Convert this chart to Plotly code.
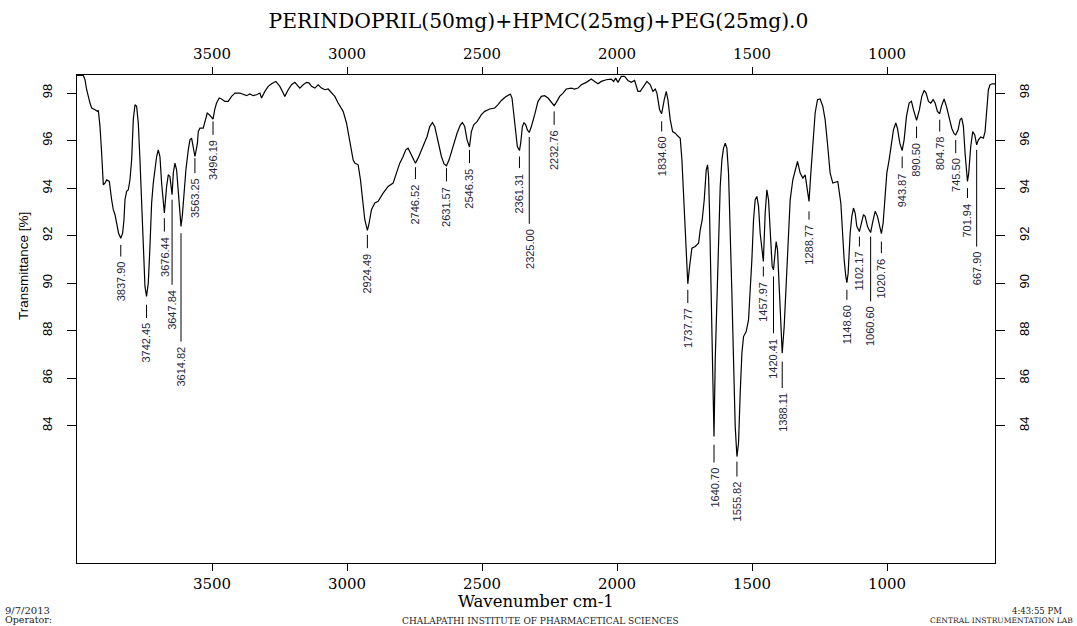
import plotly.graph_objects as go

title_text = "PERINDOPRIL(50mg)+HPMC(25mg)+PEG(25mg).0"

wavenumber = [
    4000.0, 3976.5, 3970.4, 3964.2, 3951.9, 3945.7, 3933.4, 3924.7, 3921.0, 3914.9,
    3908.7, 3902.5, 3896.4, 3890.2, 3880.3, 3877.8, 3871.7, 3865.5, 3859.3, 3853.2,
    3846.0, 3837.9, 3831.0, 3826.0, 3822.3, 3816.2, 3810.0, 3803.8, 3797.6, 3791.5,
    3785.3, 3779.1, 3773.0, 3766.8, 3760.6, 3754.5, 3748.3, 3742.45, 3736.0, 3729.8,
    3723.6, 3717.5, 3711.3, 3705.1, 3699.0, 3692.8, 3686.6, 3680.5, 3676.44, 3668.1,
    3661.9, 3655.8, 3652.1, 3647.84, 3643.4, 3637.3, 3631.1, 3624.9, 3618.8, 3614.82,
    3610.1, 3604.0, 3596.6, 3587.9, 3581.7, 3575.6, 3569.4, 3563.25, 3558.5, 3554.0,
    3550.9, 3544.7, 3532.4, 3523.8, 3517.6, 3510.2, 3496.19, 3490.0, 3483.1, 3473.2,
    3464.5, 3452.2, 3439.9, 3427.5, 3415.2, 3396.7, 3384.4, 3372.0, 3359.7, 3347.4,
    3335.0, 3322.7, 3316.5, 3304.2, 3291.8, 3279.5, 3263.5, 3248.7, 3236.3, 3230.2,
    3217.8, 3205.5, 3193.2, 3184.5, 3174.6, 3162.3, 3150.0, 3140.1, 3131.5, 3119.1,
    3106.8, 3094.4, 3082.1, 3069.8, 3057.4, 3045.1, 3032.8,
    3014.3, 3001.9, 2992.1, 2983.4, 2977.3, 2971.1, 2958.7, 2950.1, 2942.7, 2934.1,
    2924.49, 2918.0, 2909.4, 2897.1, 2884.7, 2866.2, 2847.7, 2829.2, 2816.9, 2804.5,
    2792.2, 2782.3, 2773.7, 2765.0, 2755.2, 2746.52, 2736.7, 2718.2, 2703.4, 2693.5,
    2683.6, 2675.0, 2662.7, 2650.3, 2640.5, 2631.57, 2622.0, 2607.2, 2592.4, 2580.0,
    2572.6, 2564.0, 2555.3, 2546.35, 2539.3, 2530.6, 2518.3, 2502.3, 2489.9, 2471.4,
    2452.9, 2440.6, 2428.2, 2413.4, 2403.6, 2394.9, 2388.8, 2382.6, 2375.2, 2369.1,
    2361.31, 2356.7, 2350.5, 2344.4, 2338.2, 2332.0, 2325.0, 2317.2, 2304.9, 2292.5,
    2280.2, 2267.9, 2255.5, 2243.2, 2232.76, 2224.7, 2212.4, 2200.0, 2187.7, 2169.2,
    2156.9, 2144.5, 2132.2, 2113.7, 2095.2, 2082.8, 2070.5, 2058.2, 2039.7, 2021.2,
    2012.5, 2005.1, 1996.5, 1984.2, 1971.8, 1959.5, 1947.2, 1934.8, 1922.5,
    1913.8, 1901.5, 1889.1, 1876.8, 1866.9, 1858.3, 1852.1, 1842.2, 1834.6, 1825.0,
    1817.6, 1811.4, 1802.8, 1794.1, 1784.3, 1775.6, 1765.8, 1759.6, 1753.4, 1747.3,
    1741.1, 1737.77, 1731.2, 1722.6, 1710.2, 1697.9, 1691.7, 1684.3, 1676.9, 1669.5,
    1664.6, 1660.9, 1657.2, 1652.3, 1647.3, 1640.7, 1636.2, 1630.0, 1623.9, 1617.7,
    1611.5, 1605.4, 1599.2, 1593.0, 1586.9, 1580.7, 1574.5, 1568.4, 1562.2, 1555.82,
    1549.9, 1543.7, 1537.5, 1531.4, 1521.5, 1512.8, 1506.7, 1500.5, 1494.3, 1488.2,
    1482.0, 1475.8, 1469.7, 1462.3, 1457.97, 1451.2, 1445.0, 1438.8, 1432.7, 1425.3,
    1420.41, 1414.2, 1410.5, 1405.5, 1398.1, 1390.7, 1388.11, 1380.8, 1373.4, 1364.8,
    1358.6, 1348.8, 1340.1, 1331.5, 1321.6, 1311.7, 1303.1, 1296.9, 1288.77, 1282.1,
    1274.7, 1266.1, 1257.5, 1247.6, 1237.7, 1229.1, 1220.5, 1210.6, 1200.7, 1188.4,
    1182.2,
    1171.0, 1164.8, 1158.7, 1152.5, 1148.6, 1143.9, 1136.5, 1130.3, 1124.1, 1118.0,
    1111.8, 1102.17, 1094.5, 1087.1, 1081.0, 1072.3, 1066.1, 1060.6, 1053.8, 1043.9,
    1035.3, 1027.9, 1020.76, 1014.3, 1008.1, 1000.7, 992.1, 985.9, 976.1, 967.4,
    961.3, 952.6, 943.87, 936.6, 927.9, 918.1, 909.5, 902.0, 893.4, 890.5,
    879.9, 871.2, 862.6, 855.2, 846.5, 837.9, 829.3, 821.8, 813.2, 804.78,
    798.4, 788.6, 779.9, 770.1, 760.2, 751.5, 745.5, 736.7, 729.3, 723.2,
    717.0, 710.8, 704.7, 701.94, 697.3, 689.9, 682.5, 675.0, 667.9, 661.5,
    652.8, 643.0, 636.8, 630.6, 624.5, 618.3, 609.6, 600.0,
]

transmittance = [
    98.74, 98.74, 98.56, 98.14, 97.58, 97.37, 97.30, 97.23, 97.27, 96.60,
    95.47, 94.14, 94.21, 94.35, 94.28, 94.00, 93.51, 93.09, 92.88, 92.53,
    92.10, 91.89, 92.10, 92.67, 93.51, 93.86, 93.93, 94.35, 95.19, 96.88,
    97.51, 97.44, 96.74, 95.19, 93.23, 91.26, 89.86, 89.44, 90.00, 91.54,
    93.37, 94.21, 94.77, 95.33, 95.61, 95.33, 94.21, 93.37, 92.95, 94.07,
    94.56, 94.49, 94.14, 93.72, 94.63, 95.05, 94.77, 93.79, 92.81, 92.39,
    92.81, 93.79, 94.77, 95.61, 96.03, 96.10, 95.61, 95.33, 95.61, 95.89,
    96.38, 96.52, 96.52, 96.88, 97.16, 97.09, 96.90, 97.30, 97.58, 97.79,
    97.75, 97.65, 97.65, 97.86, 98.00, 98.00, 97.93, 97.89, 97.96, 97.89,
    97.93, 98.00, 97.79, 98.07, 98.28, 98.39, 98.49, 98.28, 98.00, 97.86,
    98.14, 98.35, 98.45, 98.35, 98.21, 98.35, 98.45, 98.42, 98.28, 98.21,
    98.35, 98.21, 98.14, 98.17, 98.00, 97.86, 97.58,
    97.23, 96.74, 96.17, 95.61, 95.19, 95.05, 94.98, 94.35, 93.51, 92.67,
    92.22, 92.53, 93.09, 93.37, 93.44, 93.79, 94.07, 94.21, 94.63, 95.05,
    95.33, 95.61, 95.68, 95.47, 95.19, 95.05, 95.26, 95.75, 96.17, 96.59,
    96.76, 96.59, 95.89, 95.33, 95.02, 94.94, 95.19, 95.75, 96.31, 96.66,
    96.76, 96.59, 96.03, 95.73, 96.38, 96.66, 96.80, 97.09, 97.23, 97.33,
    97.37, 97.51, 97.69, 97.83, 97.89, 97.96, 97.79, 97.16, 96.31, 95.75,
    95.58, 95.89, 96.59, 96.76, 96.66, 96.45, 96.34, 96.59, 97.09, 97.65,
    97.86, 97.89, 97.79, 97.61, 97.47, 97.61, 97.86, 98.00, 98.17, 98.21,
    98.17, 98.21, 98.35, 98.45, 98.59, 98.49, 98.39, 98.49, 98.56, 98.59,
    98.49, 98.63, 98.45, 98.70, 98.70, 98.53, 98.45, 98.53, 98.07,
    98.07, 98.28, 98.49, 98.35, 98.07, 98.17, 98.00, 97.30, 97.13, 97.72,
    98.07, 97.72, 96.88, 96.38, 96.31, 96.20, 96.10, 95.19, 93.51, 92.10,
    90.42, 89.97, 90.70, 91.47, 91.54, 91.68, 92.24, 92.67, 93.51, 94.77,
    94.98, 94.49, 92.95, 90.28, 86.77, 83.54, 86.77, 89.58, 92.39, 94.07,
    95.19, 95.68, 95.89, 95.68, 94.63, 92.39, 89.58, 86.77, 83.96, 82.70,
    83.26, 85.37, 87.05, 87.75, 87.96, 88.46, 89.58, 90.98, 92.67, 93.51,
    93.65, 93.23, 92.10, 91.40, 90.91, 92.95, 93.93, 93.51, 92.39, 90.70,
    90.56, 91.40, 91.75, 91.40, 89.58, 87.19, 87.05, 88.17, 89.86, 92.10,
    93.51, 94.35, 94.77, 95.12, 94.63, 94.42, 94.56, 94.07, 93.44, 94.63,
    95.89, 97.16, 97.72, 97.75, 97.44, 96.88, 95.89, 94.63, 94.21, 94.24,
    94.28,
    93.37, 91.96, 90.98, 90.28, 90.02, 90.42, 92.10, 92.81, 93.16, 92.95,
    92.39, 92.17, 92.53, 92.88, 92.81, 92.39, 92.24, 92.13, 92.53, 93.02,
    92.81, 92.39, 92.08, 92.53, 93.51, 94.63, 95.19, 95.75, 96.45, 96.74,
    96.52, 95.89, 95.58, 96.03, 97.02, 97.58, 97.65, 97.30, 96.88, 96.85,
    97.30, 97.86, 98.11, 98.00, 97.65, 97.58, 97.72, 97.58, 97.23, 97.13,
    97.44, 97.75, 97.44, 96.95, 96.52, 96.29, 96.24, 96.45, 96.88, 96.95,
    96.59, 95.47, 94.63, 94.28, 94.63, 95.75, 96.38, 96.24, 95.82, 96.03,
    96.15, 96.10, 96.38, 97.44, 98.14, 98.35, 98.39, 98.39,
]

peak_wavenumber = [
    3837.90, 3742.45, 3676.44, 3647.84, 3614.82, 3563.25, 3496.19,
    2924.49, 2746.52, 2631.57, 2546.35, 2361.31, 2325.00, 2232.76,
    1834.60, 1737.77, 1640.70, 1555.82, 1457.97, 1420.41, 1388.11, 1288.77,
    1148.60, 1102.17, 1060.60, 1020.76, 943.87, 890.50, 804.78, 745.50, 701.94, 667.90,
]
peak_line_top = [
    91.61, 89.09, 92.73, 93.51, 92.10, 95.26, 96.81,
    92.03, 94.88, 94.84, 95.61, 95.33, 96.15, 97.23,
    96.81, 89.72, 83.20, 82.49, 90.70, 90.28, 86.70, 93.02,
    89.72, 91.96, 91.96, 91.75, 95.33, 96.59, 96.88, 96.03, 94.00, 95.61,
]
peak_line_bottom = [
    91.12, 88.53, 92.17, 89.93, 87.54, 94.63, 96.24,
    91.47, 94.38, 94.28, 95.05, 94.84, 92.50, 96.66,
    96.38, 89.16, 82.45, 81.86, 90.28, 87.89, 85.58, 92.67,
    89.30, 91.54, 89.23, 91.26, 94.84, 96.10, 96.38, 95.47, 93.58, 91.54,
]

x_ticks = [3500, 3000, 2500, 2000, 1500, 1000]
y_ticks = [84, 86, 88, 90, 92, 94, 96, 98]
x_range = [4000, 600]
y_range = [78.22, 98.76]

W, H = 1077, 626
ML, MR, MT, MB = 77, 82, 75, 63
PW, PH = W - ML - MR, H - MT - MB


def px_x(p):
    return (p - ML) / PW


def px_y(p):
    return (H - MB - p) / PH


serif = "DejaVu Serif"
sans = "Liberation Sans, Arial, sans-serif"

fig = go.Figure()
fig.add_trace(go.Scatter(
    x=wavenumber, y=transmittance, mode="lines",
    line=dict(color="black", width=1.2), hoverinfo="skip", showlegend=False,
    xaxis="x", yaxis="y",
))
fig.add_trace(go.Scatter(
    x=wavenumber, y=transmittance, mode="lines",
    line=dict(color="rgba(0,0,0,0)", width=0), hoverinfo="skip", showlegend=False,
    xaxis="x2", yaxis="y2",
))

shapes = []
annotations = []
for wn, t0, t1 in zip(peak_wavenumber, peak_line_top, peak_line_bottom):
    shapes.append(dict(type="line", xref="x", yref="y", x0=wn, x1=wn, y0=t0, y1=t1,
                       line=dict(color="black", width=1)))
    annotations.append(dict(
        x=wn, y=t1, xref="x", yref="y", text=f"{wn:.2f}", showarrow=False,
        textangle=-90, xanchor="center", yanchor="top", yshift=-4, borderpad=0,
        font=dict(family=sans, size=11, color="#26263c"),
    ))

annotations += [
    dict(x=px_x(23), y=px_y(266), xref="paper", yref="paper", text="Transmittance [%]",
         showarrow=False, textangle=-90, xanchor="center", yanchor="middle",
         font=dict(family=sans, size=13.5, color="black")),
    dict(x=px_x(536), y=px_y(601.5), xref="paper", yref="paper", text="Wavenumber cm-1",
         showarrow=False, xanchor="center", yanchor="middle", borderpad=0,
         font=dict(family=serif, size=16.5, color="black")),
    dict(x=px_x(3), y=px_y(610.5), xref="paper", yref="paper", text="9/7/2013",
         showarrow=False, xanchor="left", yanchor="middle",
         font=dict(family=serif, size=10, color="#222")),
    dict(x=px_x(3), y=px_y(619), xref="paper", yref="paper", text="Operator:",
         showarrow=False, xanchor="left", yanchor="middle",
         font=dict(family=serif, size=9.5, color="#222")),
    dict(x=px_x(540), y=px_y(620.5), xref="paper", yref="paper",
         text="CHALAPATHI INSTITUTE OF PHARMACETICAL SCIENCES",
         showarrow=False, xanchor="center", yanchor="middle",
         font=dict(family=serif, size=9, color="#222")),
    dict(x=px_x(1064), y=px_y(610.5), xref="paper", yref="paper", text="4:43:55 PM",
         showarrow=False, xanchor="right", yanchor="middle",
         font=dict(family=serif, size=8.5, color="#222")),
    dict(x=px_x(1074), y=px_y(620.5), xref="paper", yref="paper",
         text="CENTRAL INSTRUMENTATION LAB",
         showarrow=False, xanchor="right", yanchor="middle", borderpad=0,
         font=dict(family=serif, size=7.6, color="#222")),
]

xaxis_common = dict(range=x_range, tickmode="array", tickvals=x_ticks,
                    ticks="outside", ticklen=7, tickwidth=1.2, tickcolor="black",
                    showgrid=False, zeroline=False,
                    tickfont=dict(family=serif, size=15, color="black"))
yaxis_common = dict(range=y_range, tickmode="array", tickvals=y_ticks,
                    ticks="outside", ticklen=9, tickwidth=1.2, tickcolor="black",
                    showgrid=False, zeroline=False, tickangle=-90,
                    tickfont=dict(family=sans, size=13, color="black"))

fig.update_layout(
    width=W, height=H,
    margin=dict(l=ML, r=MR, t=MT, b=MB, pad=0),
    paper_bgcolor="white", plot_bgcolor="white",
    showlegend=False,
    title=dict(text=title_text, x=0.5, xref="container", xanchor="center",
               y=1 - 21 / H, yref="container", yanchor="middle",
               font=dict(family=serif, size=20.3, color="black")),
    xaxis=dict(**xaxis_common, side="bottom", showline=True, linecolor="black",
               linewidth=1.3, mirror=True, anchor="y", ticklabelstandoff=0),
    xaxis2=dict(**xaxis_common, side="top", overlaying="x", anchor="y",
                showline=False, ticklabelstandoff=2),
    yaxis=dict(**yaxis_common, side="left", showline=True, linecolor="black",
               linewidth=1.3, mirror=True, anchor="x", ticklabelstandoff=10),
    yaxis2=dict(**yaxis_common, side="right", overlaying="y", anchor="x",
                showline=False, ticklabelstandoff=8),
    shapes=shapes,
    annotations=annotations,
)

fig.write_html("out.html")
